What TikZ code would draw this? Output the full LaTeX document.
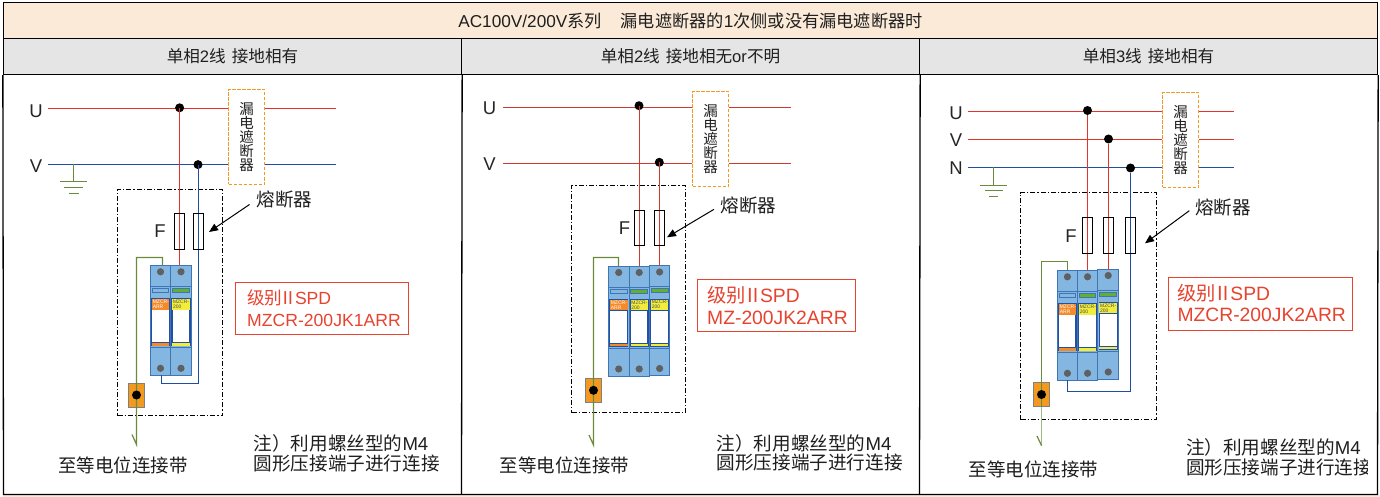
\documentclass[tikz,border=0pt]{standalone}
\usepackage{fontspec}
\setmainfont{Liberation Sans}
\newfontfamily\cjk{Noto Sans CJK SC}
\usetikzlibrary{arrows.meta}
\newcommand\fsz[1]{\fontsize{#1}{#1}\selectfont}
\newcommand\spdgrade{{\cjk 级别\hspace{-2.5pt}Ⅱ\hspace{-2.5pt}}SPD}
\definecolor{hdrfill}{HTML}{FBEAD8}
\definecolor{subfill}{HTML}{E5E5E5}
\definecolor{wirered}{HTML}{E5322B}
\definecolor{wiredred}{HTML}{CC3A30}
\definecolor{wireblue}{HTML}{1F4EA0}
\definecolor{earth}{HTML}{6C8A3C}
\definecolor{earthpale}{HTML}{A3B88A}
\definecolor{brk}{HTML}{F39A1E}
\definecolor{spdred}{HTML}{E8432E}
\definecolor{modfill}{HTML}{84B6E2}
\definecolor{modline}{HTML}{3E75B6}
\definecolor{modframe}{HTML}{2450A4}
\definecolor{modgray}{HTML}{5F6062}
\definecolor{bandorange}{HTML}{F58A2B}
\definecolor{bandyellow}{HTML}{F2EC3C}
\definecolor{winblue}{HTML}{84B6E2}
\definecolor{wingreen}{HTML}{62B02E}
\tikzset{
  x=1pt,y=-1pt,
  cell/.style={draw=black,line width=1.3pt,inner sep=0pt,font=\fsz{16.6}\cjk,text=black!88},
  wire/.style={line width=1.2pt},
  uwire/.style={wire,draw=wirered},
  dwire/.style={wire,draw=wiredred},
  bwire/.style={wire,draw=wireblue},
  ewire/.style={line width=1.2pt,draw=earth},
  joint/.style={circle,fill=black,inner sep=0pt,minimum size=9pt},
  fuse/.style={draw=black,line width=1pt,inner sep=0pt,minimum width=10pt,minimum height=35.5pt},
  breaker/.style={draw=brk,line width=1.1pt,dash pattern=on 3.2pt off 1.8pt,fill=white,inner sep=0pt,minimum width=36pt,minimum height=95pt,
     align=center,font=\fsz{14.5}\cjk,text=black!88},
  zone/.style={draw=black,line width=1pt,dash pattern=on 5pt off 2pt on 1.3pt off 2pt,inner sep=0pt},
  phase/.style={inner sep=0pt,font=\fsz{18.5},text=black!85},
  cntext/.style={inner sep=0pt,font=\fsz{18.5}\cjk,text=black!88},
  notetext/.style={inner sep=0pt,anchor=west,font=\fsz{18.6}\cjk,text=black!88},
  spdbox/.style={draw=spdred,line width=1pt,inner sep=0pt,text=spdred},
  spdtext/.style={inner sep=0pt,anchor=west,font=\fsz{17.6},text=spdred},
  spdtextb/.style={spdtext,font=\fsz{19.3}},
  termbox/.style={draw=modgray!80,line width=1pt,fill=brk,inner sep=0pt,minimum width=16pt,minimum height=24pt},
  callout/.style={draw=black,line width=1pt,-{Triangle[length=9pt,width=7.5pt]}},
  tinytxt/.style={inner sep=0pt,anchor=west,font=\fsz{5}},
}
% one pole of a surge protective device: x, y, width, band colour, band text colour, 2nd text line, window colour, strip colour
\newcommand\spdcol[8]{%
  \begin{scope}[shift={(#1,#2)}]
    \path[draw=modline,line width=1pt,fill=modfill] (0,0) rectangle (#3,110);
    \draw[modline,line width=1pt] (0,21) -- (#3,21) (0,82.5) -- (#3,82.5);
    \path[draw=modline,line width=.9pt,fill=#7] (1.8,23) rectangle (#3-1.8,27.4);
    \path[fill=modframe] (0.8,33) rectangle (#3-0.8,81);
    \path[fill=#4] (1.5,34) rectangle (#3-1.5,44.3);
    \path[fill=white] (2,45) rectangle (#3-2,77);
    \path[fill=#8] (1.5,78) rectangle (#3-1.5,80.3);
    \node[tinytxt,text=#5] at (2.2,36.6) {MZCR-};
    \node[tinytxt,text=#5] at (2.2,41.6) {#6};
    \fill[modgray] (#3/2,6.5) circle (3.6);
    \fill[modgray] (#3/2,103) circle (3.6);
  \end{scope}}
\begin{document}
\begin{tikzpicture}
\useasboundingbox (0,0) rectangle (1380,497);
\fill[white] (0,0) rectangle (1380,497);
\fill[hdrfill] (3,495) rectangle (1380,497);
% table
\node[cell,fill=hdrfill,minimum width=1374pt,minimum height=36pt] (hdr) at (690.5,20.5)
  {\fsz{17.2}\rmfamily AC100V/200V{\cjk 系列\hspace{1.1em}漏电遮断器的}1{\cjk 次侧或没有漏电遮断器时}};
\node[cell,fill=subfill,minimum width=458pt,minimum height=36pt] (sub1) at (232.5,56.5) {单相{\rmfamily 2}线\hspace{6pt}接地相有};
\node[cell,fill=subfill,minimum width=458pt,minimum height=36pt] (sub2) at (690.5,56.5) {单相{\rmfamily 2}线\hspace{6pt}接地相无{\rmfamily or}不明};
\node[cell,fill=subfill,minimum width=458pt,minimum height=36pt] (sub3) at (1148.5,56.5) {单相{\rmfamily 3}线\hspace{6pt}接地相有};
\draw[black,line width=1.3pt] (sub1.south west) -- (3.5,494.5) -- (1377.5,494.5) -- (sub3.south east);
\draw[black,line width=1.3pt] (sub1.south east) -- (461.5,494.5);
\draw[black,line width=1.3pt] (sub2.south east) -- (919.5,494.5);

% ============ panel 1
\node[phase] (u1) at (36,111) {U};
\node[phase] (v1) at (36,166) {V};
\coordinate (u1a) at (48,108.5); \coordinate (v1a) at (48,164.5);
\coordinate (u1b) at (336,108.5); \coordinate (v1b) at (336,164.5);
\node[breaker] (b1) at (246.5,137) {漏\\[-.6pt]电\\[-.6pt]遮\\[-.6pt]断\\[-.6pt]器};
\draw[uwire] (u1a) -- (u1a -| b1.west) (u1a -| b1.east) -- (u1b);
\draw[bwire] (v1a) -- (v1a -| b1.west) (v1a -| b1.east) -- (v1b);
\coordinate (g1) at (73.5,164.5); \coordinate (g1t) at (73.5,181.5);
\draw[earth,line width=1pt] (g1) -- (g1t) (60,181.5) -- (87,181.5) (64,187.5) -- (83,187.5) (69,193.5) -- (79,193.5);
\node[zone,minimum width=105pt,minimum height=226pt] (z1) at (170,302.5) {};
\node[phase] (f1) at (160,231) {F};
\spdcol{150.4}{265.3}{20.2}{bandorange}{white}{ARR}{winblue}{bandorange}
\spdcol{170.6}{265.3}{20.8}{bandyellow}{black!70}{200}{wingreen}{bandyellow}
\node[joint] (d1u) at (179.6,107.8) {};
\node[joint] (d1v) at (198,164.6) {};
\coordinate (m1a) at (179.5,265.3);
\coordinate (m1b) at (198.5,383.5);
\coordinate (m1c) at (161.5,383.5);
\coordinate (m1d) at (161.5,375.3);
\draw[uwire] (d1u.center -| m1a) -- (m1a);
\draw[bwire] (d1v.center -| m1b) -- (m1b) -- (m1c) -- (m1d);
\node[fuse] (f1a) at (179.5,231.5) {};
\node[fuse] (f1b) at (198.5,231.5) {};
\node[termbox] (t1) at (136.5,395) {};
\coordinate (e1a) at (162.5,265.3); \coordinate (e1b) at (162.5,257.5); \coordinate (e1c) at (136.5,257.5); \coordinate (e1d) at (136.5,444.5); \coordinate (e1e) at (132,434.5);
\draw[ewire] (e1a) -- (e1b) -- (e1c) -- (e1d) -- (e1e);
\node[joint] (tp1) at (t1.center) {};
\node[cntext] (fl1) at (284.4,199.5) {熔断器};
\coordinate (c1) at (249.5,204.5); \coordinate (c1e) at (209,232);
\draw[callout] (c1) -- (c1e);
\node[cntext] (eq1) at (123,465) {至等电位连接带};
\node[notetext] (n1a) at (253.5,443.5) {注）利用螺丝型的{\rmfamily M4}};
\node[notetext] (n1b) at (253.5,463) {圆形压接端子进行连接};
\node[spdbox,minimum width=173pt,minimum height=51.5pt] (s1) at (322,308.3) {};
\node[spdtext] (s1a) at (247,298) {\spdgrade};
\node[spdtext] (s1b) at (247,320) {MZCR-200JK1ARR};

% ============ panel 2
\node[phase] (u2) at (489.5,107.8) {U};
\node[phase] (v2) at (489.5,164) {V};
\coordinate (u2a) at (503,107.5); \coordinate (v2a) at (503,163.5);
\coordinate (u2b) at (791,107.5); \coordinate (v2b) at (791,163.5);
\node[breaker] (b2) at (710.5,139) {漏\\[-.6pt]电\\[-.6pt]遮\\[-.6pt]断\\[-.6pt]器};
\draw[dwire] (u2a) -- (u2a -| b2.west) (u2a -| b2.east) -- (u2b);
\draw[dwire] (v2a) -- (v2a -| b2.west) (v2a -| b2.east) -- (v2b);
\node[zone,minimum width=114pt,minimum height=227pt] (z2) at (628.5,299) {};
\node[phase] (f2) at (624.5,228.3) {F};
\spdcol{608.4}{266}{20.6}{bandorange}{white}{ARR}{winblue}{bandorange}
\spdcol{629}{266}{20.4}{bandyellow}{black!70}{200}{wingreen}{bandyellow}
\spdcol{649.4}{265.5}{20.4}{bandyellow}{black!70}{200}{wingreen}{bandyellow}
\node[joint] (d2u) at (639,105.7) {};
\node[joint] (d2v) at (659.3,162.3) {};
\coordinate (m2a) at (639.5,266); \coordinate (m2b) at (659.5,266);
\draw[dwire] (d2u.center -| m2a) -- (m2a);
\draw[dwire] (d2v.center -| m2b) -- (m2b);
\node[fuse] (f2a) at (639.5,228) {};
\node[fuse] (f2b) at (659.5,228) {};
\node[termbox] (t2) at (593.5,390.3) {};
\coordinate (e2a) at (618.5,266); \coordinate (e2b) at (618.5,257.5); \coordinate (e2c) at (593.5,257.5); \coordinate (e2d) at (593.5,445); \coordinate (e2e) at (589,435);
\draw[ewire] (e2a) -- (e2b) -- (e2c) -- (e2d) -- (e2e);
\node[joint] (tp2) at (t2.center) {};
\node[cntext] (fl2) at (748.5,205) {熔断器};
\coordinate (c2) at (714,209.3); \coordinate (c2e) at (667,237.3);
\draw[callout] (c2) -- (c2e);
\node[cntext] (eq2) at (564.3,465) {至等电位连接带};
\node[notetext] (n2a) at (716.5,443) {注）利用螺丝型的{\rmfamily M4}};
\node[notetext] (n2b) at (716.5,462.3) {圆形压接端子进行连接};
\node[spdbox,minimum width=158pt,minimum height=52pt] (s2) at (776.5,305.5) {};
\node[spdtextb] (s2a) at (707,295) {\spdgrade};
\node[spdtextb] (s2b) at (707,317.5) {MZ-200JK2ARR};

% ============ panel 3
\node[phase] (u3) at (956,113) {U};
\node[phase] (v3) at (956,140.5) {V};
\node[phase] (n3) at (956,168.5) {N};
\coordinate (u3a) at (968,111.5); \coordinate (v3a) at (968,139.5); \coordinate (n3a) at (968,167.5);
\coordinate (u3b) at (1234,111.5); \coordinate (v3b) at (1234,139.5); \coordinate (n3b) at (1234,167.5);
\node[breaker] (b3) at (1180.5,140) {漏\\[-.6pt]电\\[-.6pt]遮\\[-.6pt]断\\[-.6pt]器};
\draw[uwire] (u3a) -- (u3a -| b3.west) (u3a -| b3.east) -- (u3b);
\draw[uwire] (v3a) -- (v3a -| b3.west) (v3a -| b3.east) -- (v3b);
\draw[bwire] (n3a) -- (n3a -| b3.west) (n3a -| b3.east) -- (n3b);
\coordinate (g3) at (993.5,167.5); \coordinate (g3t) at (993.5,185.5);
\draw[earth,line width=1pt] (g3) -- (g3t) (980,185.5) -- (1007,185.5) (984.5,190.5) -- (1003,190.5) (989,196.5) -- (998,196.5);
\node[zone,minimum width=136pt,minimum height=227pt] (z3) at (1088.5,306) {};
\node[phase] (f3) at (1071,236) {F};
\spdcol{1057.4}{270.3}{20}{bandorange}{white}{ARR}{winblue}{bandorange}
\spdcol{1077.4}{270.3}{20.3}{bandyellow}{black!70}{200}{wingreen}{bandyellow}
\spdcol{1097.7}{269}{21}{bandyellow}{black!70}{200}{wingreen}{bandyellow}
\node[joint] (d3u) at (1087.5,110.5) {};
\node[joint] (d3v) at (1108.5,139) {};
\node[joint] (d3n) at (1130.5,168) {};
\coordinate (m3a) at (1087.5,270.3); \coordinate (m3b) at (1108.5,270);
\coordinate (m3c) at (1130.5,391.5); \coordinate (m3d) at (1067.5,391.5); \coordinate (m3e) at (1067.5,380.3);
\draw[uwire] (d3u) -- (m3a);
\draw[uwire] (d3v) -- (m3b);
\draw[bwire] (d3n) -- (m3c) -- (m3d) -- (m3e);
\node[fuse] (f3a) at (1087.5,235.3) {};
\node[fuse] (f3b) at (1108.5,235.3) {};
\node[fuse] (f3c) at (1130.5,235.3) {};
\node[termbox] (t3) at (1041.5,394.5) {};
\coordinate (e3a) at (1067.5,270.3); \coordinate (e3b) at (1067.5,261.5); \coordinate (e3c) at (1041.5,261.5); \coordinate (e3d) at (1041.5,407); \coordinate (e3f) at (1041.5,445.5); \coordinate (e3e) at (1037,436);
\draw[ewire,draw=earthpale,line width=1.5pt] (e3d) -- (e3f);
\draw[ewire] (e3a) -- (e3b) -- (e3c) -- (e3d);
\draw[ewire] (e3f) -- (e3e);
\node[joint] (tp3) at (t3.center) {};
\node[cntext] (fl3) at (1223,207) {熔断器};
\coordinate (c3) at (1189.3,210.7); \coordinate (c3e) at (1145,243.3);
\draw[callout] (c3) -- (c3e);
\node[cntext] (eq3) at (1033.5,469.5) {至等电位连接带};
\node[notetext] (n3a2) at (1185.8,447.3) {注）利用螺丝型的{\rmfamily M4}};
\begin{scope}
  \clip (1180,455) rectangle (1367.7,480);
  \node[notetext] (n3b2) at (1185.8,467.5) {圆形压接端子进行连接};
\end{scope}
\node[spdbox,minimum width=184pt,minimum height=53pt] (s3) at (1260.5,304) {};
\node[spdtextb] (s3a) at (1177.3,292.7) {\spdgrade};
\node[spdtextb] (s3b) at (1177.3,315) {MZCR-200JK2ARR};
\end{tikzpicture}
\end{document}
